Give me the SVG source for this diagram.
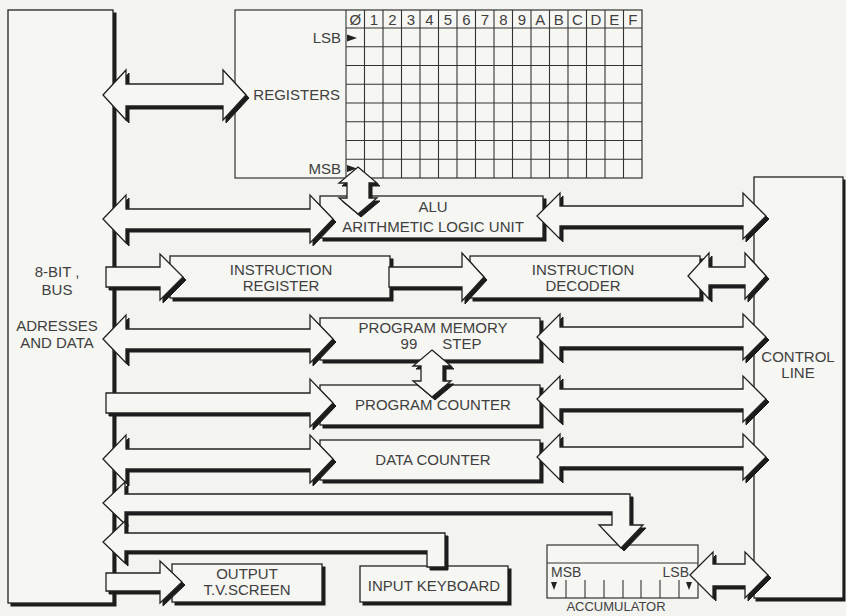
<svg xmlns="http://www.w3.org/2000/svg" xmlns:xlink="http://www.w3.org/1999/xlink" width="846" height="616" viewBox="0 0 846 616">
<style>
.t{font-family:"Liberation Sans",Arial,sans-serif;font-size:15px;fill:#404040;text-anchor:middle}
.s{font-size:14px}
.box{fill:#f6f6f3;stroke:#222;stroke-width:1.3}
.thin{fill:#f6f6f3;stroke:#333;stroke-width:1.2}
.sh{fill:#1c1c1c;stroke:#1c1c1c;stroke-width:1}
.ar{fill:#f6f6f3;stroke:#222;stroke-width:1.3;stroke-linejoin:miter}
.g{stroke:#333;stroke-width:1.1;fill:none}
.mk{fill:#222}
</style>
<defs>
<rect id="rBus" x="8" y="10" width="105" height="593"/>
<rect id="rCtl" x="754" y="177" width="89" height="421"/>
<rect id="rAlu" x="320" y="196" width="223" height="42"/>
<rect id="rIr" x="170" y="256" width="220" height="42"/>
<rect id="rId" x="470" y="256" width="230" height="42"/>
<rect id="rPm" x="320" y="318" width="220" height="42"/>
<rect id="rPc" x="320" y="385" width="220" height="40"/>
<rect id="rDc" x="320" y="440" width="220" height="40"/>
<rect id="rTv" x="172" y="564" width="150" height="38"/>
<rect id="rKb" x="360" y="566" width="148" height="36"/>
<polygon id="aReg" points="103,95 126,70 126,84 223,84 223,70 246,95 223,120 223,106 126,106 126,120"/>
<polygon id="aAluL" points="103,219 126,195 126,209 310,209 310,195 333,219 310,243 310,229 126,229 126,243"/>
<polygon id="aIr" points="106,267 160,267 160,254 183,277 160,300 160,287 106,287"/>
<polygon id="aIrId" points="389,267 462,267 462,253 484,277 462,301 462,287 389,287"/>
<polygon id="aPmL" points="103,339 126,315 126,329 310,329 310,315 333,339 310,363 310,349 126,349 126,363"/>
<polygon id="aPcL" points="106,393 310,393 310,379 333,403 310,427 310,413 106,413"/>
<polygon id="aDcL" points="103,459 126,435 126,449 310,449 310,435 333,459 310,483 310,469 126,469 126,483"/>
<polygon id="aAcc" points="103,503 125,482 125,494 630,494 630,525 643,525 621,548 599,525 612,525 612,512 125,512 125,524"/>
<polygon id="aKb" points="103,542 125,521 125,533 445,533 445,567 427,567 427,551 125,551 125,563"/>
<polygon id="aTv" points="106,573 160,573 160,561 182,582 160,603 160,591 106,591"/>
<polygon id="aAluR" points="537,216 560,193 560,206 743,206 743,193 766,216 743,239 743,226 560,226 560,239"/>
<polygon id="aIdR" points="688,276 709,253 709,267 745,267 745,253 766,276 745,299 745,285 709,285 709,299"/>
<polygon id="aPmR" points="537,337 560,314 560,327 743,327 743,314 766,337 743,360 743,347 560,347 560,360"/>
<polygon id="aPcR" points="537,399 560,376 560,389 743,389 743,376 766,399 743,422 743,409 560,409 560,422"/>
<polygon id="aDcR" points="537,457 560,434 560,447 743,447 743,434 766,457 743,480 743,467 560,467 560,480"/>
<polygon id="aAccR" points="690,575 713,552 713,564 745,564 745,552 768,575 745,598 745,586 713,586 713,598"/>
<polygon id="aRegAlu" points="358,167 377,183 369,183 369,198 377,198 358,214 339,198 347,198 347,183 339,183"/>
<polygon id="aPmPc" points="432,350 451,366 443,366 443,381 451,381 432,397 413,381 421,381 421,366 413,366"/>
</defs>
<rect width="846" height="616" fill="#f3f3f0"/>

<g id="bus">
<use xlink:href="#rBus" class="sh" transform="translate(3,3)"/>
<use xlink:href="#rBus" class="box"/>
<text class="t" x="57" y="277">8-BIT ,</text>
<text class="t" x="57" y="295">BUS</text>
<text class="t" x="57" y="331">ADRESSES</text>
<text class="t" x="57" y="348">AND DATA</text>
</g>

<g id="control">
<use xlink:href="#rCtl" class="sh" transform="translate(2,3)"/>
<use xlink:href="#rCtl" class="box"/>
<text class="t" x="798" y="362">CONTROL</text>
<text class="t" x="798" y="378">LINE</text>
</g>

<g id="registers">
<rect x="235" y="10" width="407" height="168" class="thin"/>
<path class="g" d="M346,10V178M364.5,10V178M383,10V178M401.5,10V178M420,10V178M438.5,10V178M457,10V178M475.5,10V178M494,10V178M512.5,10V178M531,10V178M549.5,10V178M568,10V178M586.5,10V178M605,10V178M623.5,10V178M346,28H642M346,46.75H642M346,65.5H642M346,84.25H642M346,103H642M346,121.75H642M346,140.5H642M346,159.25H642"/>
<g class="t">
<text x="355.3" y="25">Ø</text><text x="373.8" y="25">1</text><text x="392.3" y="25">2</text><text x="410.8" y="25">3</text>
<text x="429.3" y="25">4</text><text x="447.8" y="25">5</text><text x="466.3" y="25">6</text><text x="484.8" y="25">7</text>
<text x="503.3" y="25">8</text><text x="521.8" y="25">9</text><text x="540.3" y="25">A</text><text x="558.8" y="25">B</text>
<text x="577.3" y="25">C</text><text x="595.8" y="25">D</text><text x="614.3" y="25">E</text><text x="632.8" y="25">F</text>
</g>
<text class="t" x="341" y="43" style="text-anchor:end">LSB</text>
<text class="t" x="341" y="174" style="text-anchor:end">MSB</text>
<text class="t" x="340" y="100" style="text-anchor:end">REGISTERS</text>
<polygon class="mk" points="347,34.5 357,38 347,41.5"/>
<polygon class="mk" points="347,165 357,168.5 347,172"/>
</g>

<g id="alu">
<use xlink:href="#rAlu" class="sh" transform="translate(3,3)"/>
<use xlink:href="#rAlu" class="box"/>
<text class="t" x="433" y="212">ALU</text>
<text class="t" x="433" y="232">ARITHMETIC LOGIC UNIT</text>
</g>

<g id="instruction-register">
<use xlink:href="#rIr" class="sh" transform="translate(3,3)"/>
<use xlink:href="#rIr" class="box"/>
<text class="t" x="281" y="275">INSTRUCTION</text>
<text class="t" x="281" y="291">REGISTER</text>
</g>

<g id="instruction-decoder">
<use xlink:href="#rId" class="sh" transform="translate(3,3)"/>
<use xlink:href="#rId" class="box"/>
<text class="t" x="583" y="275">INSTRUCTION</text>
<text class="t" x="583" y="291">DECODER</text>
</g>

<g id="program-memory">
<use xlink:href="#rPm" class="sh" transform="translate(3,3)"/>
<use xlink:href="#rPm" class="box"/>
<text class="t" x="433" y="333">PROGRAM MEMORY</text>
<text class="t" x="441" y="349" style="white-space:pre">99      STEP</text>
</g>

<g id="program-counter">
<use xlink:href="#rPc" class="sh" transform="translate(3,3)"/>
<use xlink:href="#rPc" class="box"/>
<text class="t" x="433" y="410">PROGRAM COUNTER</text>
</g>

<g id="data-counter">
<use xlink:href="#rDc" class="sh" transform="translate(3,3)"/>
<use xlink:href="#rDc" class="box"/>
<text class="t" x="433" y="465">DATA COUNTER</text>
</g>

<g id="output-tv">
<use xlink:href="#rTv" class="sh" transform="translate(3,3)"/>
<use xlink:href="#rTv" class="box"/>
<text class="t" x="247" y="579">OUTPUT</text>
<text class="t" x="247" y="595">T.V.SCREEN</text>
</g>

<g id="input-keyboard">
<use xlink:href="#rKb" class="sh" transform="translate(3,3)"/>
<use xlink:href="#rKb" class="box"/>
<text class="t" x="434" y="591">INPUT KEYBOARD</text>
</g>

<g id="accumulator">
<rect x="547" y="545" width="151" height="53" class="thin"/>
<path class="g" d="M547,563H698M566,580V598M585,580V598M604,580V598M623,580V598M641,580V598M660,580V598M679,580V598"/>
<text class="t s" x="551" y="577" style="text-anchor:start">MSB</text>
<text class="t s" x="689" y="577" style="text-anchor:end">LSB</text>
<polygon class="mk" points="551,582 557,582 554,590"/>
<polygon class="mk" points="686,582 692,582 689,590"/>
<text class="t" x="616" y="611" style="font-size:13px">ACCUMULATOR</text>
</g>

<g id="connectors">
<use xlink:href="#aReg" class="sh" transform="translate(3,3)"/><use xlink:href="#aReg" class="ar"/>
<use xlink:href="#aAluL" class="sh" transform="translate(3,3)"/><use xlink:href="#aAluL" class="ar"/>
<use xlink:href="#aIr" class="sh" transform="translate(3,3)"/><use xlink:href="#aIr" class="ar"/>
<use xlink:href="#aIrId" class="sh" transform="translate(3,3)"/><use xlink:href="#aIrId" class="ar"/>
<use xlink:href="#aPmL" class="sh" transform="translate(3,3)"/><use xlink:href="#aPmL" class="ar"/>
<use xlink:href="#aPcL" class="sh" transform="translate(3,3)"/><use xlink:href="#aPcL" class="ar"/>
<use xlink:href="#aDcL" class="sh" transform="translate(3,3)"/><use xlink:href="#aDcL" class="ar"/>
<use xlink:href="#aAcc" class="sh" transform="translate(3,3)"/><use xlink:href="#aAcc" class="ar"/>
<use xlink:href="#aKb" class="sh" transform="translate(3,3)"/><use xlink:href="#aKb" class="ar"/>
<use xlink:href="#aTv" class="sh" transform="translate(3,3)"/><use xlink:href="#aTv" class="ar"/>
<use xlink:href="#aAluR" class="sh" transform="translate(3,3)"/><use xlink:href="#aAluR" class="ar"/>
<use xlink:href="#aIdR" class="sh" transform="translate(3,3)"/><use xlink:href="#aIdR" class="ar"/>
<use xlink:href="#aPmR" class="sh" transform="translate(3,3)"/><use xlink:href="#aPmR" class="ar"/>
<use xlink:href="#aPcR" class="sh" transform="translate(3,3)"/><use xlink:href="#aPcR" class="ar"/>
<use xlink:href="#aDcR" class="sh" transform="translate(3,3)"/><use xlink:href="#aDcR" class="ar"/>
<use xlink:href="#aAccR" class="sh" transform="translate(3,3)"/><use xlink:href="#aAccR" class="ar"/>
<use xlink:href="#aRegAlu" class="sh" transform="translate(3,3)"/><use xlink:href="#aRegAlu" class="ar"/>
<use xlink:href="#aPmPc" class="sh" transform="translate(3,3)"/><use xlink:href="#aPmPc" class="ar"/>
</g>
</svg>
